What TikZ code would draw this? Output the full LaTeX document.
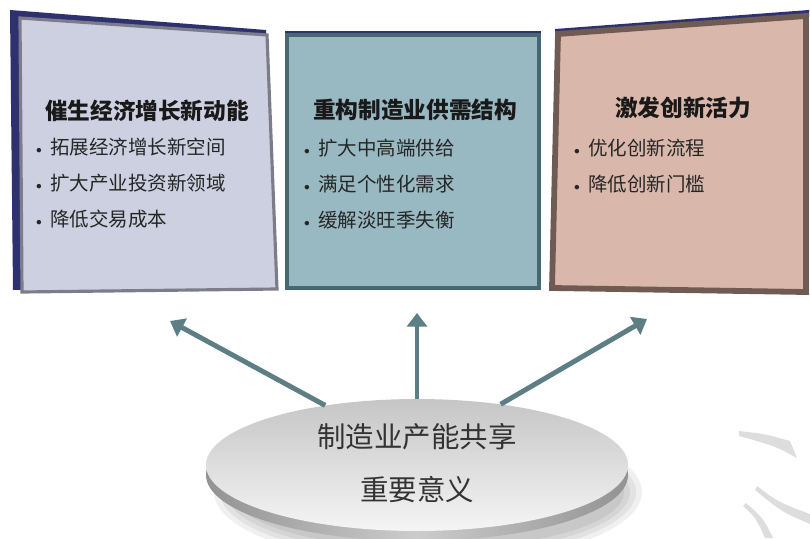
\documentclass[tikz,border=0pt]{standalone}
\usepackage{fontspec}
\setmainfont{Noto Sans CJK SC}
\usetikzlibrary{shapes.geometric,arrows.meta}
\definecolor{navyedge}{HTML}{2E3170}
\definecolor{lavface}{HTML}{CDD0E0}
\definecolor{lavrim}{HTML}{7C7D88}
\definecolor{tealface}{HTML}{99B9C2}
\definecolor{tealrim}{HTML}{46696F}
\definecolor{roseface}{HTML}{D9B8AB}
\definecolor{roserim}{HTML}{6F5B52}
\definecolor{spokecol}{HTML}{5E7E86}
\definecolor{swooshcol}{HTML}{DDDDDD}
\tikzset{
  ptitle/.style={font=\fontsize{21.5}{26}\selectfont\bfseries, text=black!90, inner sep=0},
  pitem/.style={font=\fontsize{18.5}{22}\selectfont, text=black!85, anchor=west, inner sep=0},
  disktext/.style={font=\fontsize{27}{32}\selectfont, text=black!80, inner sep=0},
  spoke/.style={spokecol, line width=4.7pt, -{Triangle[length=13pt,width=19pt]}},
}
\newcommand{\dotitem}{\raisebox{1pt}{\fontsize{11}{11}\selectfont$\bullet$}\hspace{8pt}}
\begin{document}
\begin{tikzpicture}[x=0.033333cm, y=-0.033333cm]
\useasboundingbox (0,0) rectangle (810,538);

% left panel
\fill[navyedge] (10,10) -- (266,30) -- (270,289) -- (13,290) -- cycle;
\draw[lavrim, line width=3pt, fill=lavface] (20,18) -- (267,35) -- (277,289) -- (22,292) -- cycle;
\node[ptitle] (ltitle) at (147,111) {催生经济增长新动能};
\foreach \t [count=\i] in {拓展经济增长新空间, 扩大产业投资新领域, 降低交易成本}
  \node[pitem] (litem\i) at (36,111+36*\i) {\dotitem\t};

% middle panel
\fill[navyedge] (285,31) -- (541,31) -- (541,38) -- (285,38) -- cycle;
\draw[tealrim, line width=3pt, fill=tealface] (287,35) -- (539,35) -- (539,288) -- (287,288) -- cycle;
\node[ptitle] (mtitle) at (415,110) {重构制造业供需结构};
\foreach \t [count=\i] in {扩大中高端供给, 满足个性化需求, 缓解淡旺季失衡}
  \node[pitem] (mitem\i) at (304,112+36*\i) {\dotitem\t};

% right panel
\fill[navyedge] (555,29) -- (809,10) -- (809,17) -- (555,36) -- cycle;
\draw[roserim, line width=5.5pt, fill=roseface] (558,34) -- (806,16) -- (806,292) -- (552,288) -- cycle;
\node[ptitle] (rtitle) at (683,108) {激发创新活力};
\foreach \t [count=\i] in {优化创新流程, 降低创新门槛}
  \node[pitem] (ritem\i) at (574,112+36*\i) {\dotitem\t};

% disk with shadow and rim
\foreach \k in {1,...,4}
  \fill[black, opacity=0.06] (428,492) ellipse [x radius=190+6*\k, y radius=52+5*\k];
\shade[left color=gray!85, right color=gray!85, middle color=gray!40] (417,475) ellipse [x radius=211, y radius=66];
\node[ellipse, minimum width=14.07cm, minimum height=4.4cm, inner sep=0,
      top color=gray!45, bottom color=gray!8] (disk) at (417,465) {};
\node[disktext] (share) at (417,437) {制造业产能共享};
\node[disktext] (meaning) at (417,490) {重要意义};

% arrows
\coordinate (ltip) at (170,321);
\coordinate (mtip) at (417,313);
\coordinate (rtip) at (647,319);
\draw[spoke] (disk.147) -- (ltip);
\draw[spoke] (disk.90) -- (mtip);
\draw[spoke] (disk.36) -- (rtip);

% swooshes
\fill[swooshcol] (739,431) .. controls (765,434) .. (790,441) -- (797,458) .. controls (775,446) .. (739,436) -- cycle;
\fill[swooshcol] (757,486) .. controls (778,502) .. (810,514) -- (810,524) .. controls (782,512) .. (755,490) -- cycle;
\fill[swooshcol] (743,506) .. controls (756,518) .. (765,538) -- (773,538) .. controls (763,518) .. (746,503) -- cycle;
\end{tikzpicture}
\end{document}
